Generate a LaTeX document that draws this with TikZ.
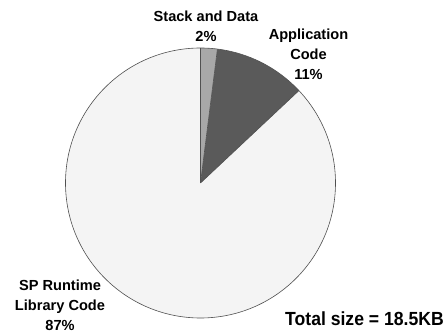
\documentclass[tikz,border=0pt]{standalone}
\usepackage{fontspec}
\setmainfont{Liberation Sans}
\definecolor{stackc}{HTML}{A8A8A8}
\definecolor{appc}{HTML}{5A5A5A}
\definecolor{runc}{HTML}{F4F4F4}
\definecolor{edgec}{HTML}{505050}
\begin{document}
\begin{tikzpicture}[x=1pt,y=1pt,
  slice/.style={draw=edgec,line width=0.6pt,line join=round},
  lbl/.style={font=\fontsize{14.6}{20}\selectfont\bfseries,align=center,inner sep=0pt,anchor=base},
  total/.style={font=\fontsize{17.6}{20}\selectfont\bfseries,inner sep=0pt,anchor=base}]
\useasboundingbox (0,0) rectangle (445,334);
\fill[white] (0,0) rectangle (445,334);
\coordinate (c) at (200.5,151);
\fill[runc] (c) -- ++(43.2:135) arc[start angle=43.2,end angle=-270,radius=135] -- cycle;
\fill[appc] (c) -- ++(82.8:135) arc[start angle=82.8,end angle=43.2,radius=135] -- cycle;
\fill[stackc] (c) -- ++(90:135) arc[start angle=90,end angle=82.8,radius=135] -- cycle;
\draw[slice] (c) circle[radius=135];
\draw[slice] (c) -- ++(90:135);
\draw[slice] (c) -- ++(82.8:135);
\draw[slice] (c) -- ++(43.2:135);
\node[lbl] (s1) at (206,312.3) {Stack and Data};
\node[lbl] (s2) at (206,292.3) {2\%};
\node[lbl] (a1) at (308.5,294.7) {Application};
\node[lbl] (a2) at (308.5,274.7) {Code};
\node[lbl] (a3) at (308.5,254.7) {11\%};
\node[lbl] (r1) at (60,43.3) {SP Runtime};
\node[lbl] (r2) at (60,23.3) {Library Code};
\node[lbl] (r3) at (60,3.5) {87\%};
\node[total] (t) at (364.5,8) {\scalebox{1}[1.08]{Total size = 18.5KB}};
\end{tikzpicture}
\end{document}
